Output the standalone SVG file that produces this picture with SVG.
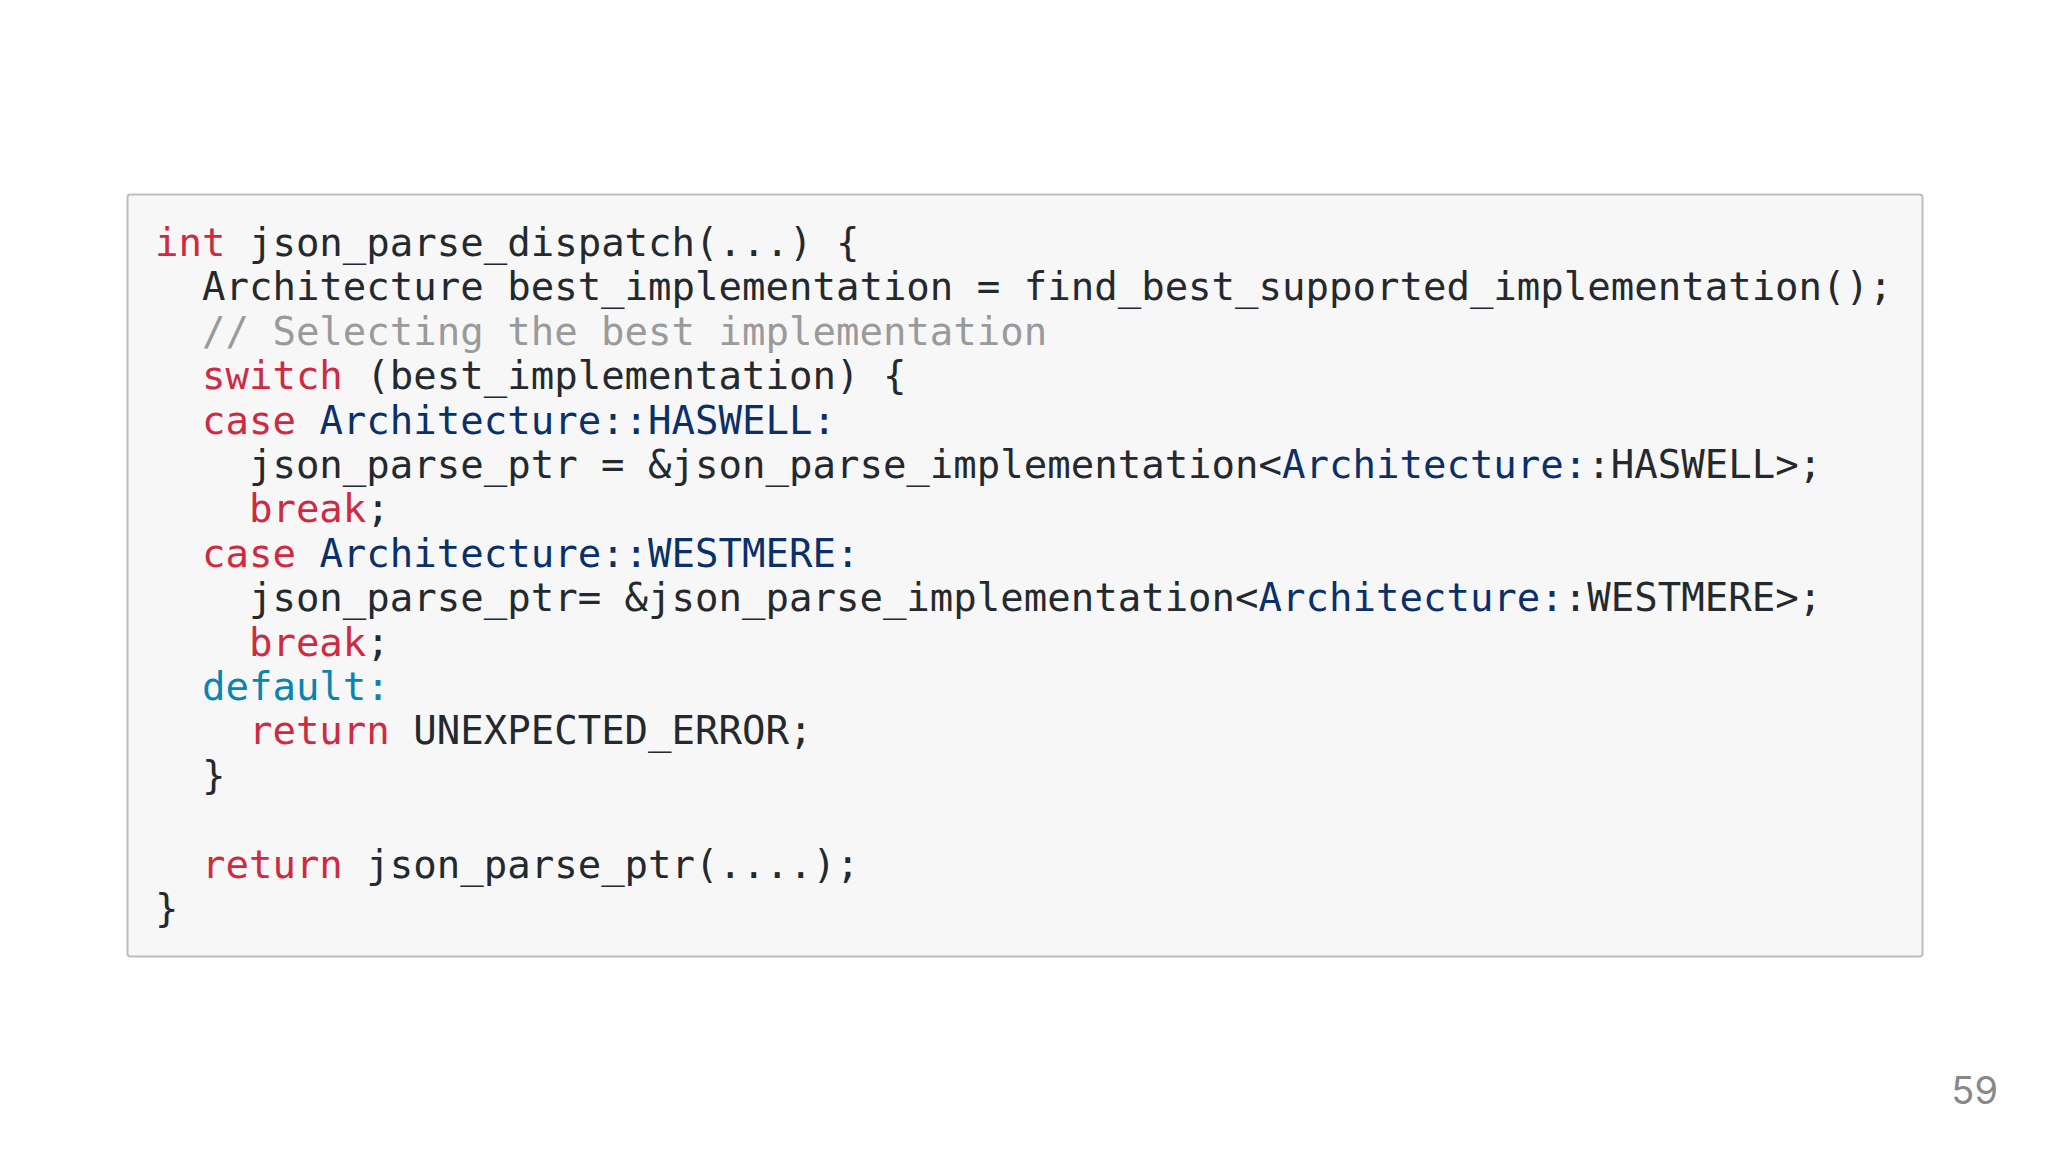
<svg xmlns="http://www.w3.org/2000/svg" width="2048" height="1152" viewBox="0 0 2048 1152">
<style>
.c{font-family:"DejaVu Sans Mono",monospace;font-size:39px;fill:#24292e;white-space:pre}
.k{fill:#cf2a41}.n{fill:#0a3069}.t{fill:#0a84b0}.g{fill:#9a9a9a}
</style>
<rect width="2048" height="1152" fill="#fff"/>
<g id="code">
<rect x="127.5" y="194.5" width="1795" height="762" rx="3" fill="#f7f7f8" stroke="#bdbdbd" stroke-width="2"/>
<text class="c" xml:space="preserve">
<tspan x="155" y="256"><tspan class="k">int</tspan> json_parse_dispatch(...) {</tspan>
<tspan x="155" y="300.4">  Architecture best_implementation = find_best_supported_implementation();</tspan>
<tspan x="155" y="344.8" class="g">  // Selecting the best implementation</tspan>
<tspan x="155" y="389.2">  <tspan class="k">switch</tspan> (best_implementation) {</tspan>
<tspan x="155" y="433.6">  <tspan class="k">case</tspan> <tspan class="n">Architecture::HASWELL:</tspan></tspan>
<tspan x="155" y="478">    json_parse_ptr = &amp;json_parse_implementation&lt;<tspan class="n">Architecture:</tspan>:HASWELL&gt;;</tspan>
<tspan x="155" y="522.4">    <tspan class="k">break</tspan>;</tspan>
<tspan x="155" y="566.8">  <tspan class="k">case</tspan> <tspan class="n">Architecture::WESTMERE:</tspan></tspan>
<tspan x="155" y="611.2">    json_parse_ptr= &amp;json_parse_implementation&lt;<tspan class="n">Architecture:</tspan>:WESTMERE&gt;;</tspan>
<tspan x="155" y="655.6">    <tspan class="k">break</tspan>;</tspan>
<tspan x="155" y="700">  <tspan class="t">default:</tspan></tspan>
<tspan x="155" y="744.4">    <tspan class="k">return</tspan> UNEXPECTED_ERROR;</tspan>
<tspan x="155" y="788.8">  }</tspan>
<tspan x="155" y="877.6">  <tspan class="k">return</tspan> json_parse_ptr(....);</tspan>
<tspan x="155" y="922">}</tspan>
</text>
</g>
<g id="page"><text x="1998" y="1104" text-anchor="end" font-family="Inter,'Liberation Sans',sans-serif" font-size="38" fill="#888">59</text></g>
</svg>
